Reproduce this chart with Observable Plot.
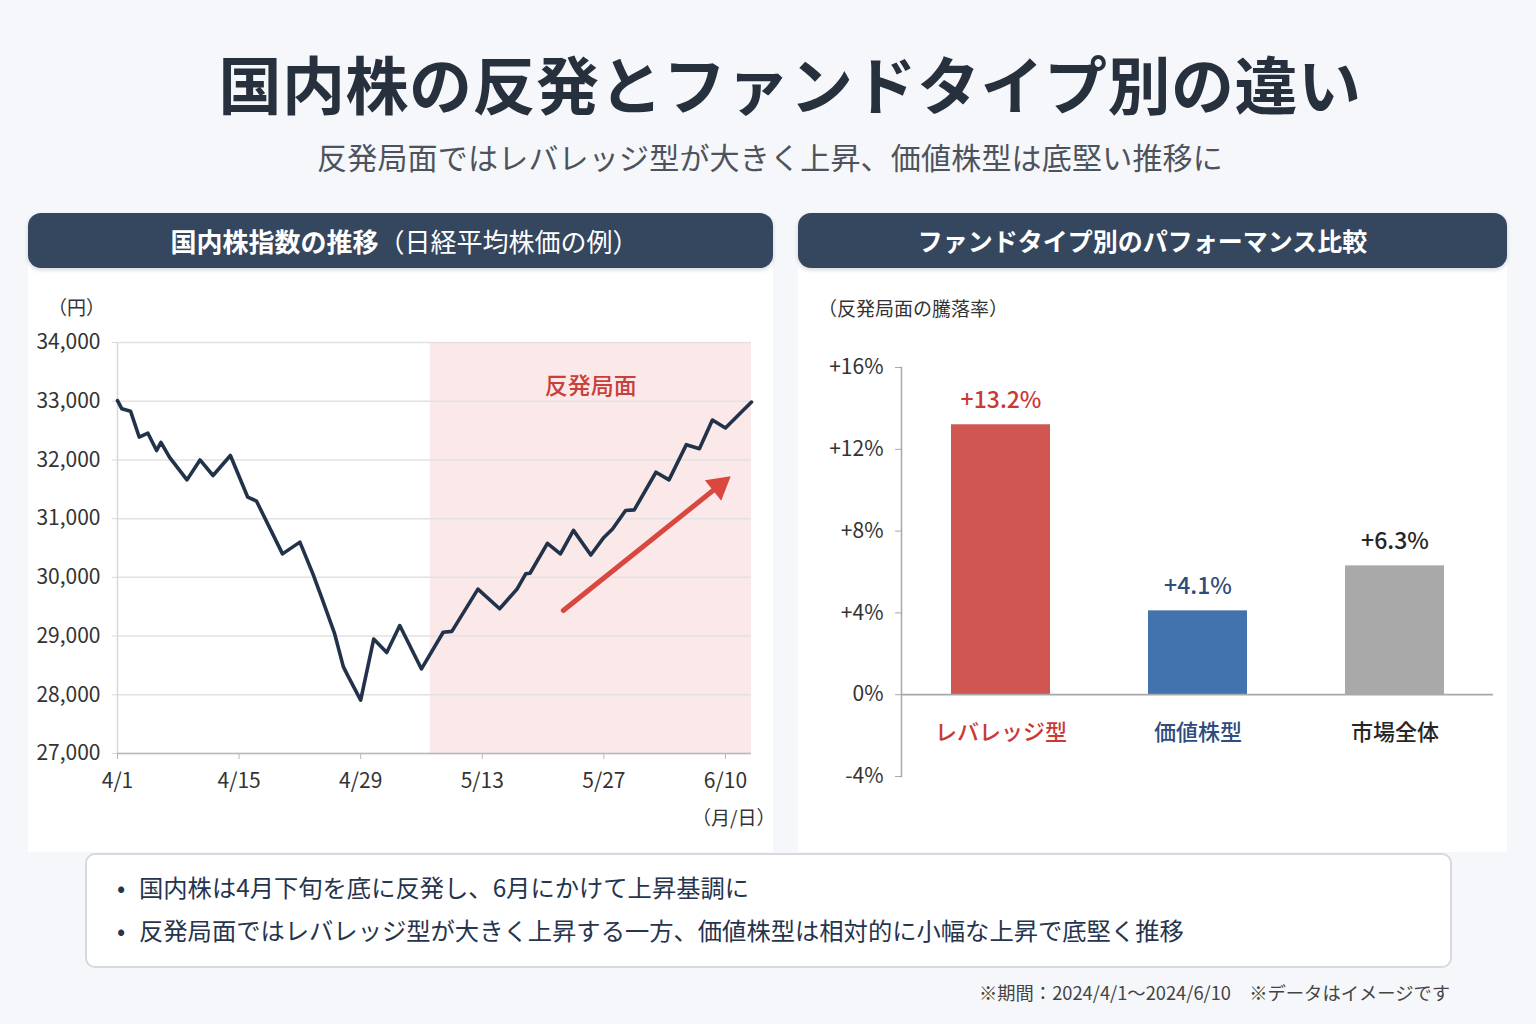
<!DOCTYPE html>
<html lang="ja">
<head>
<meta charset="utf-8">
<script src="https://cdn.jsdelivr.net/npm/d3@7"></script>
<script src="https://cdn.jsdelivr.net/npm/@observablehq/plot@0.6"></script>
<style>
  html, body { margin: 0; padding: 0; }
  body {
    width: 1536px; height: 1024px; position: relative; overflow: hidden;
    background: #f5f7fa;
    font-family: "Noto Sans CJK JP", "Noto Sans", sans-serif;
    color: #2b3442;
  }
  .abs { position: absolute; white-space: nowrap; }
  #title { left: 0; width: 1580px; top: 48px; text-align: center; font-size: 63px; font-weight: 700; line-height: 68px; color: #27303d; letter-spacing: 0.5px; }
  #subtitle { left: 0; width: 1540px; top: 138px; text-align: center; font-size: 30px; line-height: 36px; color: #4d535c; letter-spacing: 0.2px; }
  .panel { position: absolute; background: #ffffff; top: 262px; height: 590px; }
  .head {
    position: absolute; top: 213px; height: 55px; border-radius: 13px; box-sizing: border-box;
    background: #34475f; color: #ffffff; text-align: center;
    font-size: 26px; line-height: 55px; box-shadow: 0 2px 4px rgba(30,40,60,0.18);
  }
  .head b { font-weight: 700; }
  .head span { font-weight: 400; }
  .unit { font-size: 19px; line-height: 24px; color: #333; }
  #notes {
    position: absolute; left: 85px; top: 853px; width: 1363px; height: 111px;
    background: #ffffff; border: 2px solid #d6d9de; border-radius: 10px;
  }
  .note { position: absolute; left: 30px; font-size: 24.3px; line-height: 30px; color: #26344d; }
  .note::before { content: "•"; position: absolute; left: 0; }
  .note span { margin-left: 22px; }
  #foot { right: 86px; top: 980px; font-size: 18.3px; line-height: 24px; color: #444; }
  #leftChart { position: absolute; left: 28px; top: 280px; }
  #rightChart { position: absolute; left: 798px; top: 280px; }
</style>
</head>
<body>
<div class="panel" style="left:28px;width:745px"></div>
<div class="panel" style="left:798px;width:709px"></div>

<div id="title" class="abs">国内株の反発とファンドタイプ別の違い</div>
<div id="subtitle" class="abs">反発局面ではレバレッジ型が大きく上昇、価値株型は底堅い推移に</div>

<div class="head" style="left:28px;width:745px;padding-left:8px"><b>国内株指数の推移</b><span>（日経平均株価の例）</span></div>
<div class="head" style="left:798px;width:709px;font-size:25px;padding-right:20px"><b>ファンドタイプ別のパフォーマンス比較</b></div>

<div class="abs unit" style="left:48px;top:295px">（円）</div>
<div class="abs unit" style="left:692px;top:805px">（月/日）</div>
<div class="abs unit" style="left:818px;top:296px">（反発局面の騰落率）</div>

<div id="leftChart"></div>
<div id="rightChart"></div>

<div id="notes">
  <div class="note" style="top:17px"><span>国内株は4月下旬を底に反発し、6月にかけて上昇基調に</span></div>
  <div class="note" style="top:60px"><span>反発局面ではレバレッジ型が大きく上昇する一方、価値株型は相対的に小幅な上昇で底堅く推移</span></div>
</div>
<div id="foot" class="abs">※期間：2024/4/1〜2024/6/10　※データはイメージです</div>

<script>
// ---- Index series (Nikkei 225 example), ISO timestamps in UTC ----
const indexDates = [
  "2024-04-01T00:00", "2024-04-01T12:00", "2024-04-02T12:00", "2024-04-03T12:00",
  "2024-04-04T12:00", "2024-04-05T12:00", "2024-04-06T00:00", "2024-04-07T00:00",
  "2024-04-09T00:00", "2024-04-10T12:00", "2024-04-12T00:00", "2024-04-14T00:00",
  "2024-04-16T00:00", "2024-04-17T00:00", "2024-04-20T00:00", "2024-04-22T00:00",
  "2024-04-23T12:00", "2024-04-24T12:00", "2024-04-26T00:00", "2024-04-27T00:00",
  "2024-04-27T12:00", "2024-04-29T00:00", "2024-04-30T12:00", "2024-05-02T00:00",
  "2024-05-03T12:00", "2024-05-06T00:00", "2024-05-08T12:00", "2024-05-09T12:00",
  "2024-05-12T12:00", "2024-05-15T00:00", "2024-05-17T00:00", "2024-05-18T00:00",
  "2024-05-18T12:00", "2024-05-20T12:00", "2024-05-22T00:00", "2024-05-23T12:00",
  "2024-05-25T12:00", "2024-05-27T00:00", "2024-05-28T00:00", "2024-05-29T12:00",
  "2024-05-30T12:00", "2024-06-02T00:00", "2024-06-03T12:00", "2024-06-05T12:00",
  "2024-06-07T00:00", "2024-06-08T12:00", "2024-06-10T00:00", "2024-06-13T00:00"
];
const indexValues = [
  33010, 32870, 32830, 32390,
  32455, 32160, 32300, 32045,
  31660, 32000, 31735, 32075,
  31365, 31300, 30400, 30600,
  30060, 29660, 29040, 28480,
  28330, 27910, 28950, 28720,
  29180, 28440, 29065, 29080,
  29800, 29465, 29800, 30060,
  30070, 30580, 30400, 30800,
  30380, 30680, 30825, 31140,
  31150, 31790, 31660, 32260,
  32190, 32680, 32545, 32985
];
const xDomain = ["2024-04-01", "2024-06-13"];
const xTickDates = ["2024-04-01", "2024-04-15", "2024-04-29", "2024-05-13", "2024-05-27", "2024-06-10"];
const yTicksIndex = [27000, 28000, 29000, 30000, 31000, 32000, 33000, 34000];
const reboundPhase = { start: "2024-05-07", end: "2024-06-13", label: "反発局面", labelDate: "2024-05-25T12:00", labelValue: 33250 };
// Trend arrow inside the rebound phase: tail, head centre (date, yen)
const trendTail = ["2024-05-22T08:00", 29435];
const trendHead = ["2024-06-09T06:00", 31560];

// ---- Fund-type performance during the rebound ----
const fundTypes = ["レバレッジ型", "価値株型", "市場全体"];
const fundReturns = [13.2, 4.1, 6.3];
const barColors = ["#d05652", "#4373ae", "#a9a9a9"];
const labelColors = ["#c93a35", "#2f4c7c", "#262626"];
const yTicksPerf = [-4, 0, 4, 8, 12, 16];

const FONT = '"Noto Sans CJK JP", "Noto Sans", sans-serif';
const utc = s => new Date(s.length > 10 ? s + "Z" : s + "T00:00Z");

const series = indexDates.map((d, i) => ({ date: utc(d), value: indexValues[i] }));
const fmtDate = d3.utcFormat("%-m/%-d");

// Left chart geometry (used to orient the arrow head)
const L = { width: 745, height: 560, ml: 89, mr: 22, mt: 62, mb: 87 };
const x0 = utc(xDomain[0]), x1 = utc(xDomain[1]);
const pxPerMs = (L.width - L.ml - L.mr) / (x1 - x0);
const pxPerYen = (L.height - L.mt - L.mb) / (34000 - 27000);
const tail = { date: utc(trendTail[0]), value: trendTail[1] };
const head = { date: utc(trendHead[0]), value: trendHead[1] };
const dxPx = (head.date - tail.date) * pxPerMs;
const dyPx = (head.value - tail.value) * pxPerYen;
const headAngle = Math.atan2(dxPx, dyPx) * 180 / Math.PI;

const left = Plot.plot({
  width: L.width, height: L.height,
  marginLeft: L.ml, marginRight: L.mr, marginTop: L.mt, marginBottom: L.mb,
  style: { fontFamily: FONT, fontSize: "21px", color: "#333", background: "transparent", overflow: "visible" },
  x: { type: "utc", domain: [x0, x1], label: null },
  y: { domain: [27000, 34000], label: null },
  marks: [
    Plot.rect([reboundPhase], {
      x1: d => utc(d.start), x2: d => utc(d.end), y1: 27000, y2: 34000, fill: "#fbe9e9"
    }),
    Plot.gridY(yTicksIndex, { stroke: "#e2e2e2", strokeOpacity: 1, strokeWidth: 1.5 }),
    Plot.ruleX([x0], { stroke: "#d8d8d8", strokeWidth: 1.5 }),
    Plot.axisY(yTicksIndex, { tickSize: 5, tickPadding: 12, tickFormat: d3.format(","), stroke: "#d8d8d8", fill: "#333" }),
    Plot.ruleY([27000], { stroke: "#b8b8b8", strokeWidth: 1.5 }),
    Plot.axisX(xTickDates.map(utc), { tickSize: 6, tickPadding: 14, tickFormat: fmtDate, stroke: "#b8b8b8", fill: "#333" }),
    Plot.line(series, { x: "date", y: "value", stroke: "#22324a", strokeWidth: 3.6, strokeLinejoin: "round", strokeLinecap: "round" }),
    Plot.text([reboundPhase], {
      x: d => utc(d.labelDate), y: "labelValue", text: "label",
      fill: "#c9403a", fontSize: 23, fontWeight: 500
    }),
    Plot.link([{ tail, head }], {
      x1: d => d.tail.date, y1: d => d.tail.value, x2: d => d.head.date, y2: d => d.head.value,
      stroke: "#d9473f", strokeWidth: 5, strokeLinecap: "round"
    }),
    Plot.dot([head], { x: "date", y: "value", symbol: "triangle2", r: 12.5, fill: "#d9473f", stroke: "none", rotate: headAngle })
  ]
});
document.getElementById("leftChart").append(left);

const perf = fundTypes.map((t, i) => ({ type: t, value: fundReturns[i], bar: barColors[i], ink: labelColors[i] }));
const pct = d => (d > 0 ? "+" : "") + d + "%";

const right = Plot.plot({
  width: 709, height: 560,
  marginLeft: 103, marginRight: 14, marginTop: 87, marginBottom: 64,
  style: { fontFamily: FONT, fontSize: "21px", color: "#333", background: "transparent", overflow: "visible" },
  x: { domain: fundTypes, paddingInner: 0.5, paddingOuter: 0.25, axis: null, label: null },
  y: { domain: [-4, 16], label: null },
  marks: [
    Plot.barY(perf, { x: "type", y: "value", fill: d => d.bar }),
    Plot.ruleY([0], { stroke: "#a8a8a8", strokeWidth: 1.8 }),
    Plot.frame({ anchor: "left", stroke: "#a8a8a8", strokeWidth: 1.5 }),
    Plot.axisY(yTicksPerf, { tickSize: 6, tickPadding: 12, tickFormat: pct, stroke: "#a8a8a8", fill: "#333" }),
    Plot.text(perf, { x: "type", y: "value", text: d => pct(d.value.toFixed(1)), fill: d => d.ink, dy: -24, fontSize: 23, fontWeight: 500 }),
    Plot.text(perf, { x: "type", y: 0, text: "type", fill: d => d.ink, dy: 38, fontSize: 22, fontWeight: 500 })
  ]
});
document.getElementById("rightChart").append(right);
</script>
</body>
</html>
